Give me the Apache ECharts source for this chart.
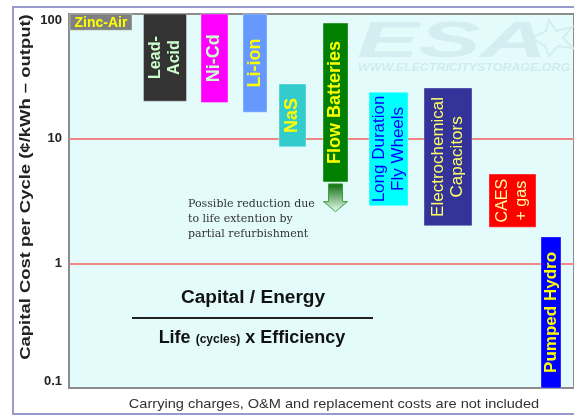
<!DOCTYPE html>
<html>
<head>
<meta charset="utf-8">
<script src="https://cdn.jsdelivr.net/npm/echarts@6/dist/echarts.min.js"></script>
<style>
  html, body { margin: 0; padding: 0; background: #fff; }
  #chart { width: 574px; height: 416px; }
</style>
</head>
<body>
<div id="chart"></div>
<script>
// 储能技术 每次循环的资本成本 (对数坐标)

var technologies = ['Zinc-Air', 'Lead-Acid', 'Ni-Cd', 'Li-ion', 'NaS', 'Flow Batteries',
  'Long Duration Fly Wheels', 'Electrochemical Capacitors', 'CAES + gas', 'Pumped Hydro'];
var barLabels = ['Zinc-Air', 'Lead-\nAcid', 'Ni-Cd', 'Li-ion', 'NaS', 'Flow Batteries',
  'Long Duration\nFly Wheels', 'Electrochemical\nCapacitors', 'CAES\n+ gas', 'Pumped Hydro'];
var lowCost = [74, 20, 19.5, 16.3, 8.6, 4.5, 2.9, 2.0, 1.95, 0.1];
var highCost = [100, 100, 100, 100, 27.4, 84.5, 23.6, 25.5, 5.2, 1.63];
var flowRefurbishedCost = 2.6;
var yTicks = [0.1, 1, 10, 100];

// 样式 (宽度, 位置微调, 颜色)
var barStyles = [
  { width: 62, nudge: 0, fill: '#808080', color: '#ffff00', font: 'bold 14px', flat: true },
  { width: 43, nudge: 14, fill: '#333333', color: '#ccffcc', font: 'bold 16px' },
  { width: 27, nudge: 13.5, fill: '#ff00ff', color: '#ccffcc', font: 'bold 18px' },
  { width: 24, nudge: 4, fill: '#6699ff', color: '#ffff00', font: 'bold 18px' },
  { width: 27, nudge: -8.5, fill: '#33cccc', color: '#ffff00', font: 'bold 18px' },
  { width: 25, nudge: -15.5, fill: '#008000', color: '#ffff00', font: 'bold 18px' },
  { width: 39, nudge: -12.5, fill: '#00ffff', color: '#0000ff', font: '17px' },
  { width: 48, nudge: -3, fill: '#333399', color: '#ffff66', font: '17px' },
  { width: 47, nudge: 11.5, fill: '#ff0000', color: '#ffff99', font: '16px' },
  { width: 20, nudge: 0, fill: '#0000ff', color: '#ffff00', font: 'bold 17px' }
];
var FONT = 'Liberation Sans, Arial, sans-serif';

var barData = technologies.map(function (name, i) {
  return [i, lowCost[i], highCost[i]];
});

function renderBar(params, api) {
  var i = api.value(0);
  var s = barStyles[i];
  var top = api.coord([i, api.value(2)]);
  var bot = api.coord([i, api.value(1)]);
  var cx = top[0] + s.nudge;
  var h = bot[1] - top[1];
  var label;
  if (s.flat) {
    label = {
      type: 'text', x: cx, y: top[1] + h / 2 + 1,
      style: { text: barLabels[i], fill: s.color, font: s.font + ' ' + FONT, align: 'center', verticalAlign: 'middle' }
    };
  } else {
    label = {
      type: 'text', x: cx, y: top[1] + h / 2, rotation: Math.PI / 2,
      style: { text: barLabels[i], fill: s.color, font: s.font + ' ' + FONT, align: 'center', verticalAlign: 'middle', lineHeight: 19 }
    };
  }
  return {
    type: 'group',
    children: [
      { type: 'rect', shape: { x: cx - s.width / 2, y: top[1], width: s.width, height: h },
        style: { fill: s.fill, stroke: 'rgba(255,255,255,0.35)', lineWidth: 1 } },
      label
    ]
  };
}

function renderArrow(params, api) {
  var i = api.value(0);
  var s = barStyles[i];
  var a = api.coord([i, api.value(1)]);
  var b = api.coord([i, api.value(2)]);
  var cx = a[0] + s.nudge;
  var y0 = a[1] + 2, y1 = b[1];
  return {
    type: 'polygon',
    shape: { points: [[cx - 7, y0], [cx + 7, y0], [cx + 7, y1 - 10], [cx + 12, y1 - 10], [cx, y1],
      [cx - 12, y1 - 10], [cx - 7, y1 - 10]] },
    style: {
      fill: new echarts.graphic.LinearGradient(0, 0, 0, 1, [
        { offset: 0, color: '#0b6b0b' }, { offset: 1, color: '#f0fff4' }
      ]),
      stroke: '#3aa23a', lineWidth: 1
    }
  };
}

var myChart = echarts.init(document.getElementById('chart'));

var option = {
  animation: false,
  grid: {
    left: 69, top: 14, right: 0, bottom: 28,
    show: true, backgroundColor: '#e3fbfb', borderColor: '#8c8c8c', borderWidth: 2
  },
  xAxis: {
    type: 'value', min: -0.64, max: 9.46,
    axisLine: { show: false }, axisTick: { show: false }, axisLabel: { show: false }, splitLine: { show: false }
  },
  yAxis: {
    type: 'log', logBase: 10, min: yTicks[0], max: yTicks[yTicks.length - 1],
    axisLine: { show: false }, axisTick: { show: false },
    axisLabel: {
      margin: 7, fontFamily: FONT, fontSize: 13, fontWeight: 'bold', color: '#222',
      verticalAlignMinLabel: 'bottom', verticalAlignMaxLabel: 'top',
      formatter: function (v) { return String(v); }
    },
    splitLine: { show: true, lineStyle: { width: 2, color: ['rgba(0,0,0,0)', '#ef8585', '#ef8585', 'rgba(0,0,0,0)'] } }
  },
  graphic: [
    // 纵轴标题
    { type: 'text', x: 26, y: 187, rotation: Math.PI / 2, scaleX: 1.23, z: 5,
      style: { text: 'Capital Cost per Cycle (¢/kWh – output)', font: 'bold 15px ' + FONT, fill: '#222', align: 'center', verticalAlign: 'middle' } },
    // 水印
    { type: 'text', left: 357, top: 18, z: 1, scaleX: 1.85,
      style: { text: 'ESA', font: 'italic bold 50px ' + FONT, fill: '#d3edf0' } },
    { type: 'polygon', z: 1,
      shape: { points: [[532, 38], [546, 31], [549, 20], [556, 31], [572, 27], [563, 38], [573, 48], [558, 46], [549, 56], [545, 46]] },
      style: { fill: 'none', stroke: '#d3edf0', lineWidth: 2 } },
    { type: 'text', x: 358, y: 62, z: 1, scaleX: 1.08,
      style: { text: 'WWW.ELECTRICITYSTORAGE.ORG', font: 'italic bold 11.5px ' + FONT, fill: '#d0eaee' } },
    // 注释
    { type: 'text', left: 188, top: 197, z: 5,
      style: { text: 'Possible reduction due\nto life extention by\npartial refurbishment', font: '11px DejaVu Serif, serif', fill: '#333', lineHeight: 15 } },
    // 公式
    { type: 'text', x: 253, y: 298, z: 5, scaleX: 1.06,
      style: { text: 'Capital / Energy', font: 'bold 18px ' + FONT, fill: '#111', align: 'center', verticalAlign: 'middle' } },
    { type: 'line', z: 5, shape: { x1: 132, y1: 318, x2: 373, y2: 318 }, style: { stroke: '#222', lineWidth: 2 } },
    { type: 'text', x: 252, y: 338, z: 5,
      style: {
        text: '{a|Life }{b|(cycles)}{a| x Efficiency}', align: 'center', verticalAlign: 'middle',
        rich: {
          a: { font: 'bold 18px ' + FONT, fill: '#111' },
          b: { font: 'bold 12px ' + FONT, fill: '#111', padding: [4, 0, 0, 0] }
        }
      } },
    // 脚注
    { type: 'text', x: 334, y: 404, z: 5, scaleX: 1.12,
      style: { text: 'Carrying charges, O&M and replacement costs are not included', font: '13px ' + FONT, fill: '#333', align: 'center', verticalAlign: 'middle' } },
    // 外框
    { type: 'rect', z: 10, shape: { x: 13, y: 7, width: 580, height: 407 },
      style: { fill: 'none', stroke: '#9999cc', lineWidth: 2 } }
  ],
  series: [
    {
      name: 'cost', type: 'custom', renderItem: renderBar, data: barData,
      encode: { x: 0, y: [1, 2] }, z: 3
    },
    {
      name: 'refurbishment', type: 'custom', renderItem: renderArrow,
      data: [[5, lowCost[5], flowRefurbishedCost]],
      encode: { x: 0, y: [1, 2] }, z: 3
    }
  ]
};

myChart.setOption(option);
</script>
</body>
</html>
